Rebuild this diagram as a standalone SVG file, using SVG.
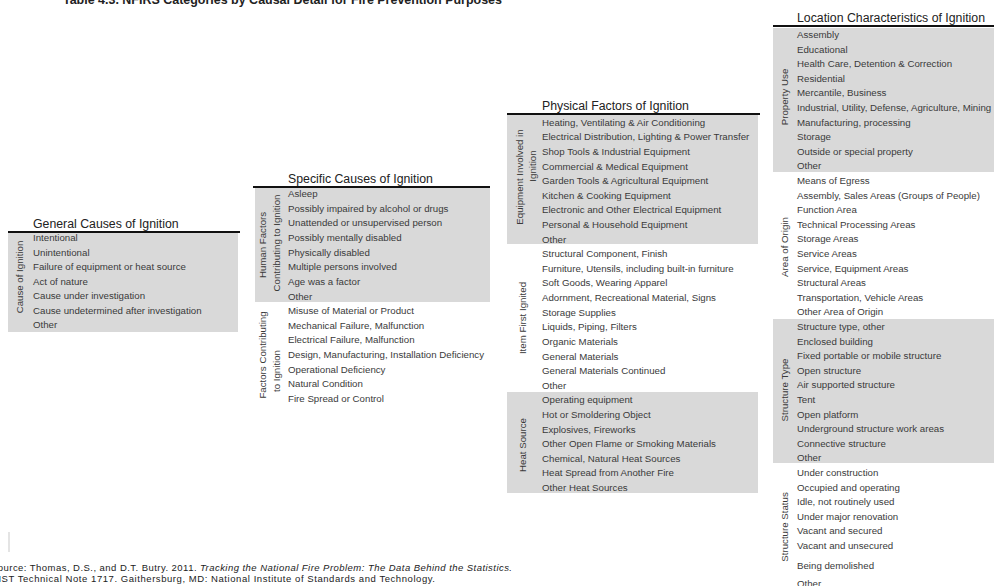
<svg xmlns="http://www.w3.org/2000/svg" width="994" height="586" viewBox="0 0 994 586">
<style>
text { font-family: "Liberation Sans", Arial, sans-serif; }
.it { font-size: 9.7px; fill: #3a3a3a; }
.tt { font-size: 12.3px; fill: #222; }
.vl { font-size: 9.7px; fill: #3a3a3a; text-anchor: middle; }
.band { fill: #d9d9d9; }
.rule { stroke: #111; stroke-width: 1.8; }
.fn { font-size: 9.5px; fill: #222; }
</style>
<rect width="994" height="586" fill="#ffffff"/>
<text x="63" y="3.5" font-family="'Liberation Serif', 'Times New Roman', serif" font-weight="bold" font-size="12.5" fill="#222" textLength="439" lengthAdjust="spacingAndGlyphs">Table 4.3. NFIRS Categories by Causal Detail for Fire Prevention Purposes</text>
<rect x="8" y="532" width="2" height="20" fill="#e4e4e4"/>

<g id="general-causes">
<rect class="band" x="8" y="233" width="230" height="99"/>
<line class="rule" x1="8" y1="232" x2="240" y2="232"/>
<text class="tt" x="33" y="228">General Causes of Ignition</text>
<text class="vl" transform="translate(23,277) rotate(-90)">Cause of Ignition</text>
<text class="it" x="33" y="241">Intentional</text>
<text class="it" x="33" y="255.5">Unintentional</text>
<text class="it" x="33" y="270">Failure of equipment or heat source</text>
<text class="it" x="33" y="284.5">Act of nature</text>
<text class="it" x="33" y="299">Cause under investigation</text>
<text class="it" x="33" y="313.5">Cause undetermined after investigation</text>
<text class="it" x="33" y="328">Other</text>
</g>

<g id="specific-causes">
<rect class="band" x="255" y="188" width="235" height="114"/>
<line class="rule" x1="253" y1="187" x2="490" y2="187"/>
<text class="tt" x="288" y="183">Specific Causes of Ignition</text>
<text class="vl" transform="translate(266,245) rotate(-90)">Human Factors</text>
<text class="vl" transform="translate(280,243) rotate(-90)">Contributing to Ignition</text>
<text class="vl" transform="translate(266,355) rotate(-90)">Factors Contributing</text>
<text class="vl" transform="translate(280,371) rotate(-90)">to Ignition</text>
<text class="it" x="288" y="197">Asleep</text>
<text class="it" x="288" y="211.6">Possibly impaired by alcohol or drugs</text>
<text class="it" x="288" y="226.3">Unattended or unsupervised person</text>
<text class="it" x="288" y="240.9">Possibly mentally disabled</text>
<text class="it" x="288" y="255.6">Physically disabled</text>
<text class="it" x="288" y="270.2">Multiple persons involved</text>
<text class="it" x="288" y="284.8">Age was a factor</text>
<text class="it" x="288" y="299.5">Other</text>
<text class="it" x="288" y="314.1">Misuse of Material or Product</text>
<text class="it" x="288" y="328.8">Mechanical Failure, Malfunction</text>
<text class="it" x="288" y="343.4">Electrical Failure, Malfunction</text>
<text class="it" x="288" y="358">Design, Manufacturing, Installation Deficiency</text>
<text class="it" x="288" y="372.7">Operational Deficiency</text>
<text class="it" x="288" y="387.3">Natural Condition</text>
<text class="it" x="288" y="402">Fire Spread or Control</text>
</g>

<g id="physical-factors">
<rect class="band" x="507" y="115" width="251" height="129"/>
<rect class="band" x="507" y="392" width="251" height="101"/>
<line class="rule" x1="507" y1="114" x2="760" y2="114"/>
<text class="tt" x="542" y="110">Physical Factors of Ignition</text>
<text class="vl" transform="translate(523,177) rotate(-90)">Equipment Involved in</text>
<text class="vl" transform="translate(536,166) rotate(-90)">Ignition</text>
<text class="vl" transform="translate(526,318) rotate(-90)">Item First Ignited</text>
<text class="vl" transform="translate(526,445) rotate(-90)">Heat Source</text>
<text class="it" x="542" y="125.7">Heating, Ventilating &amp; Air Conditioning</text>
<text class="it" x="542" y="140.3">Electrical Distribution, Lighting &amp; Power Transfer</text>
<text class="it" x="542" y="154.9">Shop Tools &amp; Industrial Equipment</text>
<text class="it" x="542" y="169.5">Commercial &amp; Medical Equipment</text>
<text class="it" x="542" y="184.1">Garden Tools &amp; Agricultural Equipment</text>
<text class="it" x="542" y="198.8">Kitchen &amp; Cooking Equipment</text>
<text class="it" x="542" y="213.4">Electronic and Other Electrical Equipment</text>
<text class="it" x="542" y="228">Personal &amp; Household Equipment</text>
<text class="it" x="542" y="242.6">Other</text>
<text class="it" x="542" y="257.2">Structural Component, Finish</text>
<text class="it" x="542" y="271.8">Furniture, Utensils, including built-in furniture</text>
<text class="it" x="542" y="286.4">Soft Goods, Wearing Apparel</text>
<text class="it" x="542" y="301">Adornment, Recreational Material, Signs</text>
<text class="it" x="542" y="315.7">Storage Supplies</text>
<text class="it" x="542" y="330.3">Liquids, Piping, Filters</text>
<text class="it" x="542" y="344.9">Organic Materials</text>
<text class="it" x="542" y="359.5">General Materials</text>
<text class="it" x="542" y="374.1">General Materials Continued</text>
<text class="it" x="542" y="388.7">Other</text>
<text class="it" x="542" y="403.3">Operating equipment</text>
<text class="it" x="542" y="417.9">Hot or Smoldering Object</text>
<text class="it" x="542" y="432.6">Explosives, Fireworks</text>
<text class="it" x="542" y="447.2">Other Open Flame or Smoking Materials</text>
<text class="it" x="542" y="461.8">Chemical, Natural Heat Sources</text>
<text class="it" x="542" y="476.4">Heat Spread from Another Fire</text>
<text class="it" x="542" y="491">Other Heat Sources</text>
</g>

<g id="location-characteristics">
<rect class="band" x="773" y="28" width="221" height="144"/>
<rect class="band" x="773" y="319" width="221" height="144"/>
<line class="rule" x1="773" y1="26" x2="994" y2="26"/>
<text class="tt" x="797" y="22">Location Characteristics of Ignition</text>
<text class="vl" transform="translate(788,97) rotate(-90)">Property Use</text>
<text class="vl" transform="translate(788,247) rotate(-90)">Area of Origin</text>
<text class="vl" transform="translate(788,390) rotate(-90)">Structure Type</text>
<text class="vl" transform="translate(788,527) rotate(-90)">Structure Status</text>
<text class="it" x="797" y="38">Assembly</text>
<text class="it" x="797" y="52.6">Educational</text>
<text class="it" x="797" y="67.2">Health Care, Detention &amp; Correction</text>
<text class="it" x="797" y="81.8">Residential</text>
<text class="it" x="797" y="96.4">Mercantile, Business</text>
<text class="it" x="797" y="111">Industrial, Utility, Defense, Agriculture, Mining</text>
<text class="it" x="797" y="125.6">Manufacturing, processing</text>
<text class="it" x="797" y="140.2">Storage</text>
<text class="it" x="797" y="154.8">Outside or special property</text>
<text class="it" x="797" y="169.4">Other</text>
<text class="it" x="797" y="184">Means of Egress</text>
<text class="it" x="797" y="198.6">Assembly, Sales Areas (Groups of People)</text>
<text class="it" x="797" y="213.2">Function Area</text>
<text class="it" x="797" y="227.8">Technical Processing Areas</text>
<text class="it" x="797" y="242.4">Storage Areas</text>
<text class="it" x="797" y="257">Service Areas</text>
<text class="it" x="797" y="271.6">Service, Equipment Areas</text>
<text class="it" x="797" y="286.2">Structural Areas</text>
<text class="it" x="797" y="300.8">Transportation, Vehicle Areas</text>
<text class="it" x="797" y="315.4">Other Area of Origin</text>
<text class="it" x="797" y="330">Structure type, other</text>
<text class="it" x="797" y="344.6">Enclosed building</text>
<text class="it" x="797" y="359.2">Fixed portable or mobile structure</text>
<text class="it" x="797" y="373.8">Open structure</text>
<text class="it" x="797" y="388.4">Air supported structure</text>
<text class="it" x="797" y="403">Tent</text>
<text class="it" x="797" y="417.6">Open platform</text>
<text class="it" x="797" y="432.2">Underground structure work areas</text>
<text class="it" x="797" y="446.8">Connective structure</text>
<text class="it" x="797" y="461.4">Other</text>
<text class="it" x="797" y="476">Under construction</text>
<text class="it" x="797" y="490.6">Occupied and operating</text>
<text class="it" x="797" y="505.2">Idle, not routinely used</text>
<text class="it" x="797" y="519.8">Under major renovation</text>
<text class="it" x="797" y="534.4">Vacant and secured</text>
<text class="it" x="797" y="549">Vacant and unsecured</text>
<text class="it" x="797" y="569">Being demolished</text>
<text class="it" x="797" y="586.5">Other</text>
</g>

<g id="connectors"></g>

<g id="source-note">
<text class="fn" x="-9" y="571" textLength="521" lengthAdjust="spacing">Source: Thomas, D.S., and D.T. Butry. 2011. <tspan font-style="italic">Tracking the National Fire Problem: The Data Behind the Statistics.</tspan></text>
<text class="fn" x="-9" y="582" textLength="444" lengthAdjust="spacing">NIST Technical Note 1717. Gaithersburg, MD: National Institute of Standards and Technology.</text>
</g>
</svg>
